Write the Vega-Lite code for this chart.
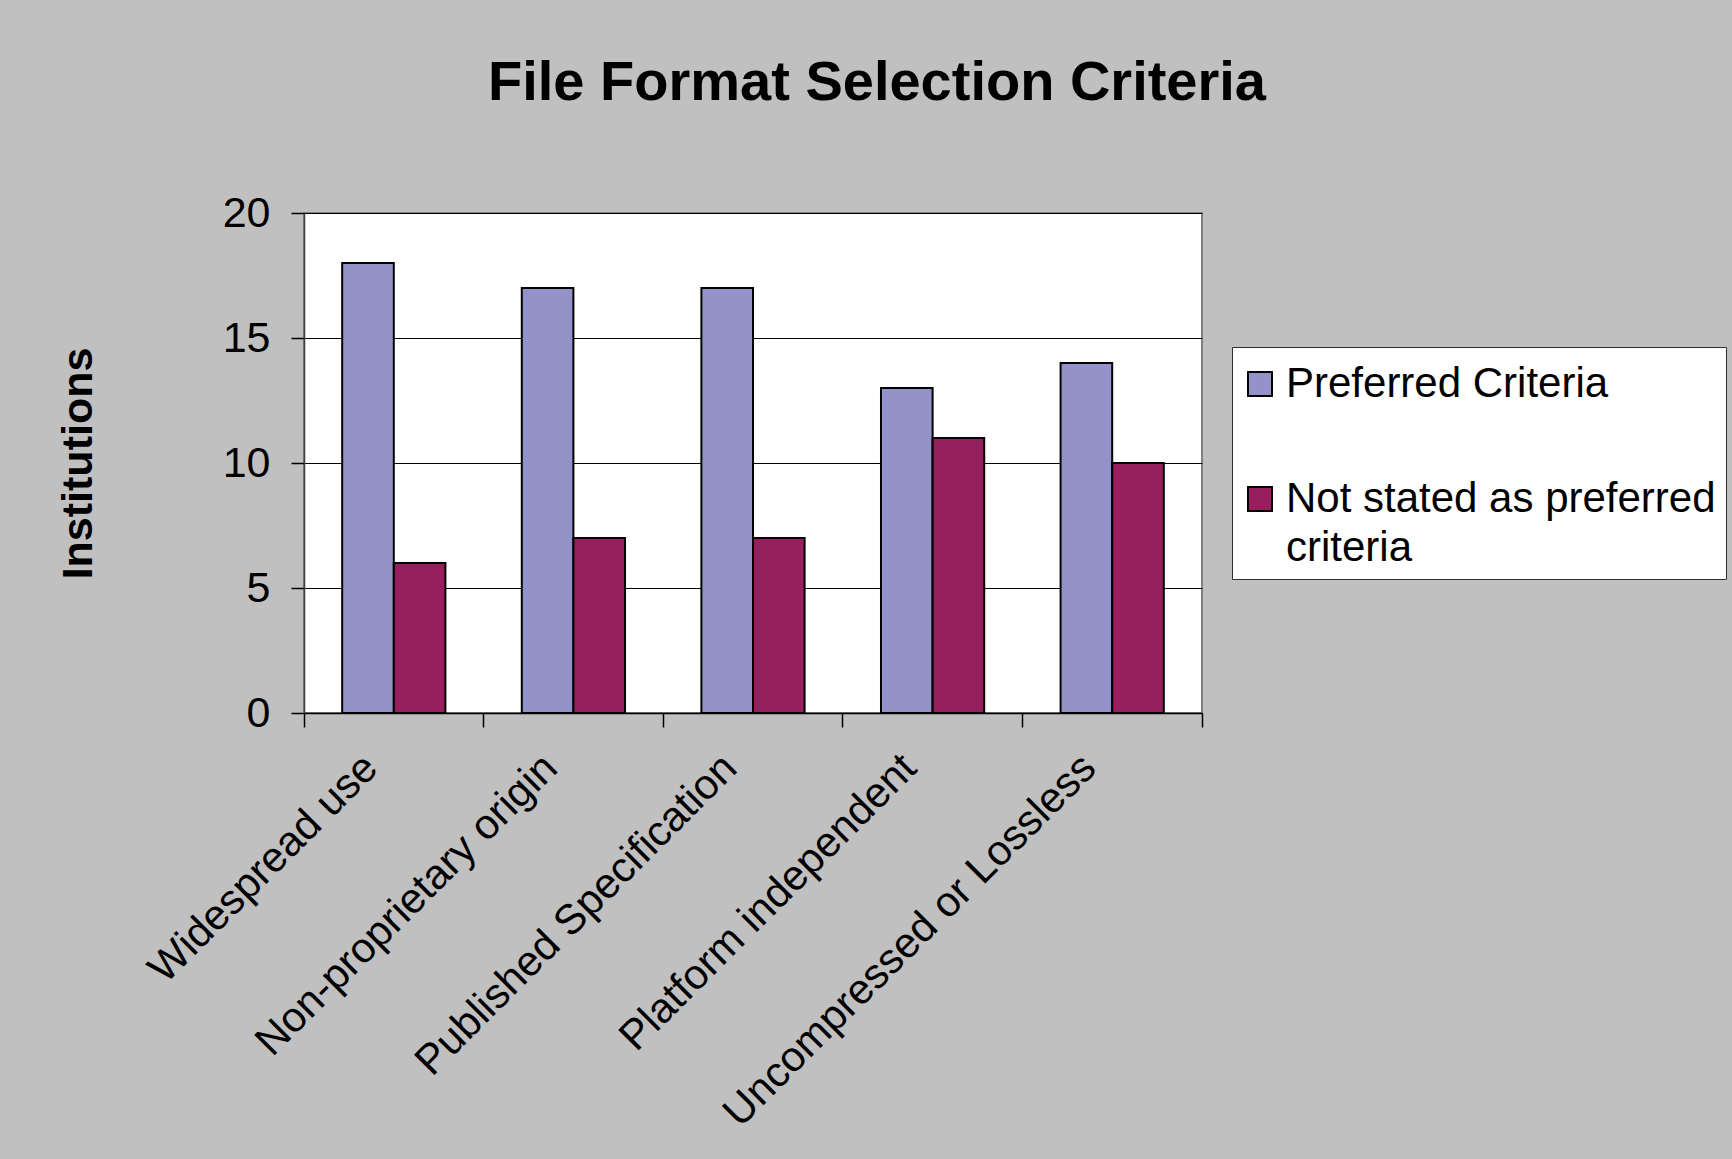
{
  "$schema": "https://vega.github.io/schema/vega-lite/v6.json",
  "width": 898,
  "height": 500,
  "autosize": {"type": "none"},
  "padding": {"left": 304, "top": 213, "right": 530, "bottom": 446},
  "background": "#C0C0C0",
  "title": {
    "text": "File Format Selection Criteria",
    "fontSize": 56,
    "fontWeight": "bold",
    "color": "black",
    "anchor": "middle",
    "frame": "group",
    "dx": 124,
    "offset": 36,
    "baseline": "alphabetic"
  },
  "data": {
    "values": [
      {"criterion": "Widespread use", "series": "Preferred Criteria", "institutions": 18},
      {"criterion": "Widespread use", "series": "Not stated as preferred criteria", "institutions": 6},
      {"criterion": "Non-proprietary origin", "series": "Preferred Criteria", "institutions": 17},
      {"criterion": "Non-proprietary origin", "series": "Not stated as preferred criteria", "institutions": 7},
      {"criterion": "Published Specification", "series": "Preferred Criteria", "institutions": 17},
      {"criterion": "Published Specification", "series": "Not stated as preferred criteria", "institutions": 7},
      {"criterion": "Platform independent", "series": "Preferred Criteria", "institutions": 13},
      {"criterion": "Platform independent", "series": "Not stated as preferred criteria", "institutions": 11},
      {"criterion": "Uncompressed or Lossless", "series": "Preferred Criteria", "institutions": 14},
      {"criterion": "Uncompressed or Lossless", "series": "Not stated as preferred criteria", "institutions": 10}
    ]
  },
  "mark": {"type": "bar", "stroke": "black", "strokeWidth": 2},
  "encoding": {
    "x": {
      "field": "criterion",
      "type": "nominal",
      "sort": ["Widespread use", "Non-proprietary origin", "Published Specification", "Platform independent", "Uncompressed or Lossless"],
      "scale": {"paddingInner": 0, "paddingOuter": 0},
      "axis": {
        "title": null,
        "labelAngle": -45,
        "labelAlign": "right",
        "labelBaseline": "alphabetic",
        "labelFontSize": 42,
        "labelColor": "black",
        "labelPadding": 43,
        "labelOffset": -14,
        "labelLimit": 1000,
        "tickSize": 14,
        "tickColor": "black",
        "tickWidth": 1.5,
        "bandPosition": 1,
        "tickExtra": true,
        "domainColor": "black",
        "domainWidth": 1.5,
        "grid": false
      }
    },
    "xOffset": {
      "field": "series",
      "type": "nominal",
      "sort": ["Preferred Criteria", "Not stated as preferred criteria"],
      "scale": {"paddingInner": 0, "paddingOuter": 0.74}
    },
    "y": {
      "field": "institutions",
      "type": "quantitative",
      "scale": {"domain": [0, 20], "nice": false},
      "axis": {
        "title": "Institutions",
        "titleFontSize": 43,
        "titleFontWeight": "bold",
        "titleColor": "black",
        "titlePadding": 122,
        "values": [0, 5, 10, 15, 20],
        "labelFontSize": 43,
        "labelColor": "black",
        "labelPadding": 21,
        "tickSize": 13,
        "tickColor": "black",
        "tickWidth": 1.5,
        "domainColor": "#404040",
        "domainWidth": 1.5,
        "grid": true,
        "gridColor": "black",
        "gridWidth": 1,
        "gridOpacity": 1
      }
    },
    "color": {
      "field": "series",
      "type": "nominal",
      "scale": {
        "domain": ["Preferred Criteria", "Not stated as preferred criteria"],
        "range": ["#9393C9", "#971F5D"]
      },
      "legend": {
        "orient": "none",
        "legendX": 928,
        "legendY": 134,
        "title": " ",
        "titleFontSize": 1,
        "titlePadding": 5,
        "fillColor": "white",
        "strokeColor": "#303030",
        "padding": 10,
        "rowPadding": 73,
        "symbolType": "square",
        "symbolSize": 576,
        "symbolStrokeColor": "black",
        "symbolStrokeWidth": 2,
        "symbolOpacity": 1,
        "symbolOffset": -3,
        "labelFontSize": 42,
        "labelColor": "black",
        "labelOffset": 5,
        "labelLimit": 1000,
        "labelExpr": "datum.label == 'Not stated as preferred criteria' ? ['Not stated as preferred', 'criteria'] : datum.label",
        "encode": {"labels": {"update": {"lineHeight": {"value": 49}}}}
      }
    }
  },
  "config": {
    "font": "Liberation Sans",
    "view": {"fill": "white", "stroke": "#808080", "strokeWidth": 2}
  }
}
